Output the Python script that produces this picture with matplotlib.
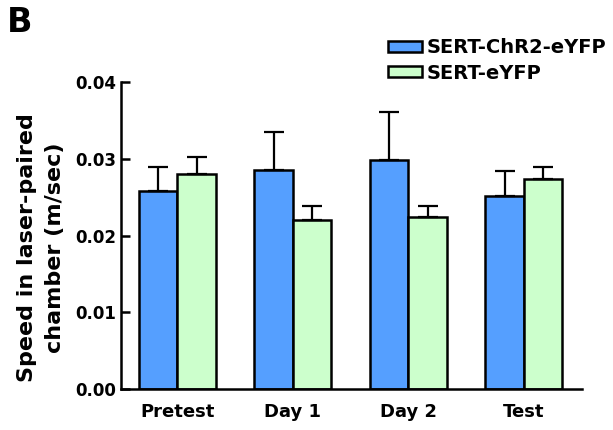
import matplotlib.pyplot as plt
import numpy as np

plt.rcParams['font.family'] = ['DejaVu Sans']
plt.rcParams['font.weight'] = 'bold'

sessions = ['Pretest', 'Day 1', 'Day 2', 'Test']
chr2_mean = [0.0258, 0.0286, 0.0298, 0.0252]
chr2_sem = [0.0031, 0.0049, 0.0063, 0.0032]
eyfp_mean = [0.0280, 0.0221, 0.0224, 0.0274]
eyfp_sem = [0.0023, 0.0017, 0.0014, 0.0015]

fig = plt.figure(figsize=(6.13, 4.30), dpi=100)
ax = fig.add_axes([0.197, 0.095, 0.752, 0.714])

x = np.arange(len(sessions))
w = 1 / 3.0
err_kw = dict(elinewidth=1.6, capsize=7.5, capthick=1.6, ecolor='black')

ax.bar(x - w / 2, chr2_mean, w, color='#559fff', edgecolor='black', linewidth=1.8,
       yerr=[np.zeros(4), chr2_sem], error_kw=err_kw, label='SERT-ChR2-eYFP', zorder=2)
ax.bar(x + w / 2, eyfp_mean, w, color='#ccffcc', edgecolor='black', linewidth=1.8,
       yerr=[np.zeros(4), eyfp_sem], error_kw=err_kw, label='SERT-eYFP', zorder=2)

ax.set_xlim(-0.49, 3.5)
ax.set_ylim(0, 0.04)
ax.set_yticks([0, 0.01, 0.02, 0.03, 0.04])
ax.set_yticklabels(['0.00', '0.01', '0.02', '0.03', '0.04'])
ax.set_xticks(x)
ax.set_xticklabels(sessions)

ax.spines['right'].set_visible(False)
ax.spines['top'].set_visible(False)
ax.spines['left'].set_linewidth(1.8)
ax.spines['bottom'].set_linewidth(1.8)

# ticks point into the plot on the y axis, none on x
ax.tick_params(axis='y', direction='in', length=6.5, width=1.8, labelsize=12, pad=3)
ax.tick_params(axis='x', length=0, labelsize=13, pad=10)

ax.set_ylabel('Speed in laser-paired\nchamber (m/sec)', fontsize=16, fontweight='bold',
              linespacing=1.45)
ax.yaxis.set_label_coords(-0.122, 0.46)

ax.legend(loc='upper left', bbox_to_anchor=(388 / 613, 1 - 38 / 430),
          bbox_transform=fig.transFigure, frameon=False, fontsize=14,
          handlelength=1.75, handleheight=0.5, handletextpad=0.25,
          labelspacing=0.35, borderpad=0, borderaxespad=0)

fig.text(0.012, 0.985, 'B', fontsize=24, fontweight='bold', va='top', ha='left')

fig.savefig('out.png', dpi=100)
